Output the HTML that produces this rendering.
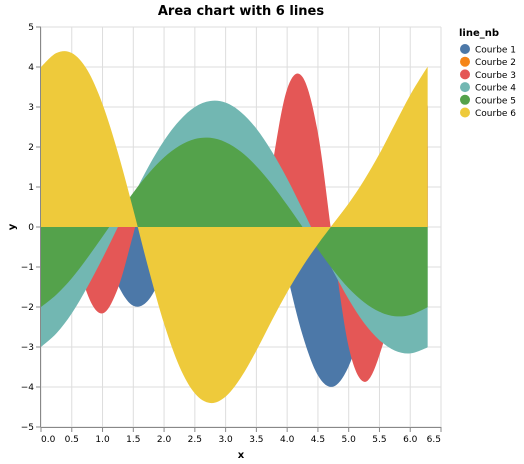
<!DOCTYPE html>
<html>
<head>
<meta charset="utf-8">
<style>
  html, body { margin: 0; padding: 0; background: #fff; }
  svg { display: block; font-family: "DejaVu Sans", "Liberation Sans", sans-serif; }
</style>
</head>
<body>
<svg id="chart" width="524" height="464" viewBox="0 0 524 464" xmlns="http://www.w3.org/2000/svg">
  <text x="241" y="15" text-anchor="middle" font-size="13" font-weight="bold" fill="#000">Area chart with 6 lines</text>
  <g id="grid"></g>
  <g id="marks"></g>
  <g id="axes"></g>
  <text x="241" y="458" text-anchor="middle" font-size="10" font-weight="bold" fill="#000">x</text>
  <text transform="translate(15,227) rotate(-90)" text-anchor="middle" font-size="10" font-weight="bold" fill="#000">y</text>
  <g id="legend">
    <text x="459" y="36" font-size="10" font-weight="bold" fill="#000">line_nb</text>
  </g>
</svg>
<script>
const xValues = [0,0.25,0.5,0.75,1,1.25,1.5,1.75,2,2.25,2.5,2.75,3,3.25,3.5,3.75,4,4.25,4.5,4.75,5,5.25,5.5,5.75,6,6.25,6.283];
const seriesNames = ["Courbe 1","Courbe 2","Courbe 3","Courbe 4","Courbe 5","Courbe 6"];
const seriesColors = ["#4c78a8","#f58518","#e45756","#72b7b2","#54a24b","#eeca3b"];
const courbe1 = [3,2.88,2.10,0.89,-0.41,-1.45,-1.97,-1.82,-1.05,0.15,1.45,2.51,3.02,2.82,1.91,0.47,-1.19,-2.70,-3.71,-3.99,-3.48,-2.29,-0.69,0.94,2.25,2.96,3];
const courbe2 = [2,1.94,1.76,1.46,1.08,0.63,0.14,-0.36,-0.83,-1.26,-1.60,-1.85,-1.98,-1.99,-1.87,-1.64,-1.31,-0.89,-0.42,0.08,0.57,1.02,1.42,1.72,1.92,2,2];
const courbe3 = [2.98,1.78,-0.12,-1.66,-2.16,-1.53,-0.18,1.22,2.06,1.85,0.55,-1.29,-2.73,-2.80,-1.23,1.45,3.45,3.75,2.35,-0.5,-3.0,-3.87,-3.2,-1.5,2.45,3.03,2.98];
const courbe4 = [-3,-2.66,-2.16,-1.51,-0.78,0,0.78,1.52,2.16,2.66,3.00,3.15,3.11,2.87,2.46,1.89,1.21,0.44,-0.35,-1.11,-1.81,-2.40,-2.83,-3.09,-3.16,-3.03,-3];
const courbe5 = [-2,-1.69,-1.28,-0.78,-0.24,0.32,0.86,1.34,1.74,2.03,2.20,2.23,2.12,1.88,1.52,1.07,0.55,0,-0.56,-1.08,-1.53,-1.88,-2.12,-2.23,-2.20,-2.03,-2];
const courbe6 = [4,4.35,4.35,3.93,3.07,1.86,0.43,-1.06,-2.42,-3.49,-4.16,-4.40,-4.24,-3.76,-3.09,-2.34,-1.63,-0.99,-0.43,0.08,0.59,1.17,1.83,2.57,3.30,3.93,4];
const seriesValues = [courbe1, courbe2, courbe3, courbe4, courbe5, courbe6];
const xTicks = [0,0.5,1,1.5,2,2.5,3,3.5,4,4.5,5,5.5,6,6.5];
const yTicks = [-5,-4,-3,-2,-1,0,1,2,3,4,5];

const NS = "http://www.w3.org/2000/svg";
const L = 41, R = 441, T = 27, B = 427;
const xMin = 0, xMax = 6.5, yMin = -5, yMax = 5;
function sx(v) { return L + (v - xMin) / (xMax - xMin) * (R - L); }
function sy(v) { return B - (v - yMin) / (yMax - yMin) * (B - T); }
function mk(tag, attrs, parent) {
  const e = document.createElementNS(NS, tag);
  for (const k in attrs) e.setAttribute(k, attrs[k]);
  parent.appendChild(e);
  return e;
}
const grid = document.getElementById("grid");
const axes = document.getElementById("axes");
const marks = document.getElementById("marks");
const legend = document.getElementById("legend");

xTicks.forEach((t, i) => {
  const g = mk("line", {x1: sx(t), x2: sx(t), y1: T, y2: B, stroke: "#ddd", "stroke-width": 1}, grid);
  
  
  const tk = mk("line", {x1: sx(t), x2: sx(t), y1: B, y2: B + 5, stroke: "#888", "stroke-width": 1}, axes);
  
  
  const anchor = i === 0 ? "start" : (i === xTicks.length - 1 ? "end" : "middle");
  const lb = mk("text", {x: sx(t), y: B + 15, "text-anchor": anchor, "font-size": 9, fill: "#000"}, axes);
  lb.textContent = t.toFixed(1);
  
  
});
yTicks.forEach(t => {
  const g = mk("line", {x1: L, x2: R, y1: sy(t), y2: sy(t), stroke: "#ddd", "stroke-width": 1}, grid);
  
  
  const tk = mk("line", {x1: L - 5, x2: L, y1: sy(t), y2: sy(t), stroke: "#888", "stroke-width": 1}, axes);
  
  
  const lb = mk("text", {x: L - 7, y: sy(t) + 3, "text-anchor": "end", "font-size": 9, fill: "#000"}, axes);
  lb.textContent = t < 0 ? "\u2212" + Math.abs(t) : String(t);
  
  
});
const xd = mk("line", {x1: L, x2: R, y1: B + 0.5, y2: B + 0.5, stroke: "#888", "stroke-width": 1}, axes);


const yd = mk("line", {x1: L - 0.5, x2: L - 0.5, y1: T, y2: B, stroke: "#888", "stroke-width": 1}, axes);



function smoothPath(pts) {
  let d = "M" + pts[0][0] + "," + pts[0][1];
  for (let i = 0; i < pts.length - 1; i++) {
    const p0 = pts[Math.max(0, i - 1)], p1 = pts[i], p2 = pts[i + 1], p3 = pts[Math.min(pts.length - 1, i + 2)];
    const c1x = p1[0] + (p2[0] - p0[0]) / 6, c1y = p1[1] + (p2[1] - p0[1]) / 6;
    const c2x = p2[0] - (p3[0] - p1[0]) / 6, c2y = p2[1] - (p3[1] - p1[1]) / 6;
    d += "C" + c1x + "," + c1y + " " + c2x + "," + c2y + " " + p2[0] + "," + p2[1];
  }
  return d;
}
seriesValues.forEach((vals, si) => {
  const pts = vals.map((v, i) => [sx(xValues[i]), sy(v)]);
  let d = smoothPath(pts);
  d += "L" + sx(xValues[xValues.length - 1]) + "," + sy(0) + "L" + sx(xValues[0]) + "," + sy(0) + "Z";
  const p = mk("path", {d: d, fill: seriesColors[si], stroke: "none"}, marks);
  
  
});

seriesNames.forEach((n, i) => {
  const cy = 49 + i * 12.7;
  const c = mk("circle", {cx: 465, cy: cy, r: 5, fill: seriesColors[i]}, legend);
  
  
  const t = mk("text", {x: 475, y: cy + 3.5, "font-size": 9, fill: "#000"}, legend);
  t.textContent = n;
  
  
});
</script>
</body>
</html>
